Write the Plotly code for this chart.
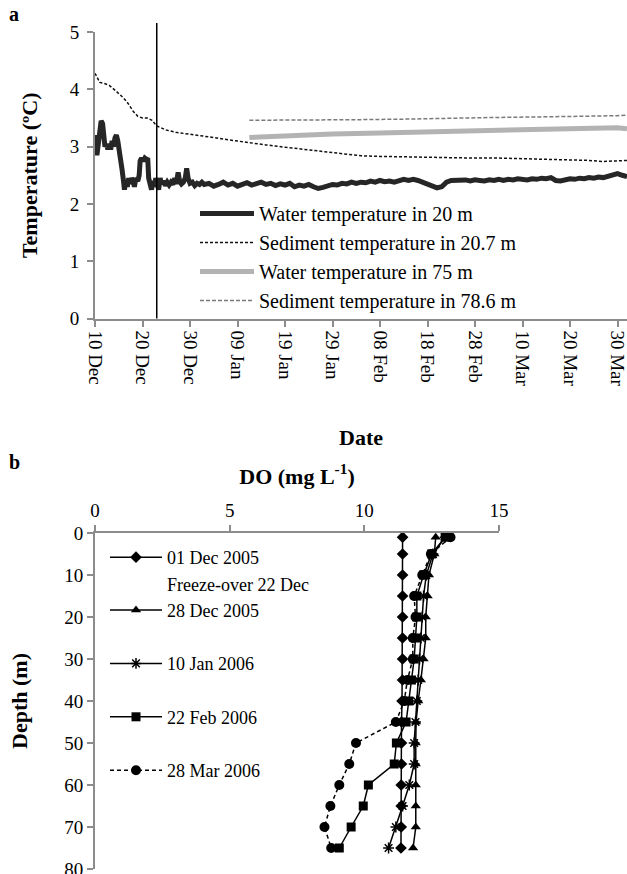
import pandas as pd
import plotly.graph_objects as go

# ---------------- Panel a data (days after 10 Dec 2005) ----------------
START = "2005-12-10"
FREEZE_DAY = 13.0

w20_days = [0.0, 0.2, 0.4, 0.7, 1.0, 1.3, 1.6, 1.9, 2.1, 2.4, 2.7, 3.0, 3.3, 3.6, 3.9, 4.2, 4.5, 4.8,
            5.1, 5.4, 5.7, 6.0, 6.2, 6.5, 6.8, 7.1, 7.4, 7.7, 8.0, 8.3, 8.6, 9.0, 9.3, 9.5, 9.8, 10.2,
            10.5, 10.8, 11.1, 11.3, 11.6, 11.9, 12.2, 12.5, 12.8, 13.1, 13.4, 13.7, 14.0, 14.4, 14.8,
            15.2, 15.6, 16.0, 16.4, 16.8, 17.1, 17.5, 17.8, 18.2, 18.6, 19.0, 19.3, 19.6, 20.0, 20.5,
            21.0, 21.5, 22.0, 22.5, 23, 24, 25, 26, 27, 28, 29, 30, 31, 32, 33, 34, 35, 36, 37, 38,
            39, 40, 41, 42, 43, 44, 45, 46, 47, 48, 49, 50, 51, 52, 53, 54, 55, 56, 57, 58, 59, 60,
            61, 62, 63, 64, 65, 66, 67, 68, 69, 70, 71, 72, 73, 74, 75, 76, 77, 78, 79, 80, 81, 82,
            83, 84, 85, 86, 87, 88, 89, 90, 91, 92, 93, 94, 95, 96, 97, 98, 99, 100, 101, 102, 103,
            104, 105, 106, 107, 108, 109, 110, 111, 112]
w20_vals = [2.95, 3.2, 2.85, 3.1, 3.35, 3.45, 3.4, 3.2, 3.0, 3.05, 2.95, 3.05, 2.95, 3.1, 3.0, 3.15,
            3.2, 3.1, 2.95, 2.85, 2.6, 2.4, 2.25, 2.4, 2.3, 2.45, 2.35, 2.45, 2.4, 2.3, 2.45, 2.4, 2.5,
            2.75, 2.8, 2.75, 2.8, 2.78, 2.8, 2.45, 2.3, 2.25, 2.4, 2.3, 2.45, 2.35, 2.25, 2.45, 2.35,
            2.4, 2.32, 2.38, 2.33, 2.38, 2.34, 2.45, 2.35, 2.55, 2.4, 2.35, 2.38, 2.45, 2.62, 2.45,
            2.36, 2.38, 2.32, 2.36, 2.34, 2.38, 2.34, 2.36, 2.31, 2.34, 2.38, 2.33, 2.36, 2.31, 2.34,
            2.37, 2.33, 2.35, 2.38, 2.34, 2.36, 2.32, 2.35, 2.33, 2.36, 2.30, 2.33, 2.31, 2.34, 2.30,
            2.27, 2.29, 2.31, 2.34, 2.33, 2.36, 2.35, 2.38, 2.36, 2.38, 2.37, 2.40, 2.38, 2.41, 2.39,
            2.40, 2.38, 2.40, 2.43, 2.41, 2.43, 2.41, 2.38, 2.33, 2.30, 2.28, 2.30, 2.38, 2.41, 2.42,
            2.41, 2.42, 2.40, 2.42, 2.41, 2.40, 2.42, 2.41, 2.43, 2.41, 2.43, 2.42, 2.44, 2.43, 2.42,
            2.44, 2.43, 2.45, 2.44, 2.46, 2.41, 2.40, 2.42, 2.44, 2.43, 2.45, 2.44, 2.46, 2.45, 2.47,
            2.46, 2.48, 2.50, 2.53, 2.50, 2.48]

s207_days = [0, 0.5, 1, 2, 3, 4, 5, 6, 7, 8, 9, 10, 11, 12, 13, 14, 15, 17, 20, 24, 28, 32, 36, 40,
             44, 48, 52, 56, 60, 65, 70, 75, 80, 85, 90, 95, 100, 104, 107, 110, 112]
s207_vals = [4.28, 4.2, 4.12, 4.1, 4.07, 4.0, 3.93, 3.85, 3.75, 3.62, 3.53, 3.5, 3.5, 3.46, 3.36,
             3.32, 3.29, 3.25, 3.22, 3.17, 3.12, 3.07, 3.03, 2.99, 2.95, 2.91, 2.87, 2.84, 2.83,
             2.82, 2.81, 2.81, 2.80, 2.80, 2.79, 2.78, 2.78, 2.76, 2.74, 2.75, 2.76]

w75_days = [32.5, 40, 50, 60, 70, 80, 90, 100, 108, 110, 112]
w75_vals = [3.16, 3.19, 3.22, 3.24, 3.26, 3.27, 3.28, 3.30, 3.32, 3.33, 3.31]

s786_days = [32.5, 45, 55, 65, 75, 85, 95, 105, 110, 112]
s786_vals = [3.46, 3.46, 3.47, 3.48, 3.50, 3.51, 3.52, 3.53, 3.54, 3.55]

# ---------------- Panel b data ----------------
depths = [1, 5, 10, 15, 20, 25, 30, 35, 40, 45, 50, 55, 60, 65, 70, 75]
do_01dec = [11.42, 11.42, 11.42, 11.42, 11.42, 11.42, 11.42, 11.42, 11.40, 11.38, 11.38, 11.38,
            11.37, 11.37, 11.37, 11.36]
do_28dec = [12.65, 12.6, 12.4, 12.35, 12.28, 12.28, 12.2, 12.1, 12.0, 11.92, 11.91, 11.91, 11.91,
            11.91, 11.91, 11.81]
do_10jan = [13.0, 12.55, 12.3, 12.2, 12.15, 12.1, 12.05, 12.0, 11.95, 11.9, 11.85, 11.85, 11.67,
            11.42, 11.17, 10.9]
do_22feb = [13.0, 12.5, 12.2, 11.95, 11.95, 11.9, 11.85, 11.75, 11.65, 11.55, 11.19, 11.11, 10.15,
            9.96, 9.51, 9.07]
do_28mar = [13.2, 12.47, 12.15, 11.85, 11.9, 11.8, 11.8, 11.6, 11.48, 11.17, 9.69, 9.44, 9.07,
            8.74, 8.52, 8.77]

legend_a = ["Water temperature in 20 m", "Sediment temperature in 20.7 m",
            "Water temperature in 75 m", "Sediment temperature in 78.6 m"]
legend_b = ["01 Dec 2005", "Freeze-over 22 Dec", "28 Dec 2005", "10 Jan 2006",
            "22 Feb 2006", "28 Mar 2006"]

FONT = "Liberation Serif"
W, H = 627, 874


def to_dates(days):
    return pd.Timestamp(START) + pd.to_timedelta(days, unit="D")


def py(p):  # pixel from top -> paper y
    return 1 - p / H


def px(p):
    return p / W


fig = go.Figure()

# ---- panel a traces
fig.add_trace(go.Scatter(x=to_dates(w20_days), y=w20_vals, mode="lines", name=legend_a[0],
                         line=dict(color="#262626", width=5), legend="legend", xaxis="x", yaxis="y"))
fig.add_trace(go.Scatter(x=to_dates(s207_days), y=s207_vals, mode="lines", name=legend_a[1],
                         line=dict(color="#111111", width=1.5, dash="3px,2px"), legend="legend",
                         xaxis="x", yaxis="y"))
fig.add_trace(go.Scatter(x=to_dates(w75_days), y=w75_vals, mode="lines", name=legend_a[2],
                         line=dict(color="#b3b3b3", width=5), legend="legend", xaxis="x", yaxis="y"))
fig.add_trace(go.Scatter(x=to_dates(s786_days), y=s786_vals, mode="lines", name=legend_a[3],
                         line=dict(color="#7a7a7a", width=1.5, dash="4px,2px"), legend="legend",
                         xaxis="x", yaxis="y"))

# ---- panel b traces
mk = dict(color="black")
fig.add_trace(go.Scatter(x=do_01dec, y=depths, mode="lines+markers", name=legend_b[0],
                         line=dict(color="black", width=1.5),
                         marker=dict(symbol="diamond", size=9, **mk), legend="legend2",
                         legendgroup="g1", xaxis="x2", yaxis="y2"))
fig.add_trace(go.Scatter(x=[None], y=[None], mode="lines", name=legend_b[1],
                         line=dict(color="rgba(0,0,0,0)", width=1), legend="legend2",
                         legendgroup="g1", xaxis="x2", yaxis="y2"))
fig.add_trace(go.Scatter(x=do_28dec, y=depths, mode="lines+markers", name=legend_b[2],
                         line=dict(color="black", width=1.5),
                         marker=dict(symbol="triangle-up", size=9, **mk), legend="legend2",
                         legendgroup="g1", xaxis="x2", yaxis="y2"))
fig.add_trace(go.Scatter(x=do_10jan, y=depths, mode="lines+markers", name=legend_b[3],
                         line=dict(color="black", width=1.5),
                         marker=dict(symbol="asterisk-open", size=9, color="black",
                                     line=dict(color="black", width=1.5)),
                         legend="legend2", legendgroup="g3", xaxis="x2", yaxis="y2"))
fig.add_trace(go.Scatter(x=do_22feb, y=depths, mode="lines+markers", name=legend_b[4],
                         line=dict(color="black", width=1.5),
                         marker=dict(symbol="square", size=9, **mk), legend="legend2",
                         legendgroup="g4", xaxis="x2", yaxis="y2"))
fig.add_trace(go.Scatter(x=do_28mar, y=depths, mode="lines+markers", name=legend_b[5],
                         line=dict(color="black", width=1.5, dash="4px,3px"),
                         marker=dict(symbol="circle", size=10, **mk), legend="legend2",
                         legendgroup="g5", xaxis="x2", yaxis="y2"))

axis_col = "#8c8c8c"
tickf = dict(family=FONT, size=19, color="black")

fig.update_layout(
    width=W, height=H,
    margin=dict(l=0, r=0, t=0, b=0, autoexpand=False),
    paper_bgcolor="white", plot_bgcolor="white",
    font=dict(family=FONT, color="black"),
    showlegend=True,
    xaxis=dict(domain=[px(95), 1.0], anchor="y", type="date", automargin=False,
               range=[to_dates([0])[0], to_dates([112])[0]],
               tick0=START, dtick=10 * 86400000, tickformat="%d %b", tickangle=90,
               ticklabeloverflow="allow",
               tickfont=tickf, showgrid=False, zeroline=False,
               showline=True, linecolor=axis_col, linewidth=2,
               ticks="outside", ticklen=6, tickcolor=axis_col, tickwidth=1.5,
               title=dict(text="<b>Date</b>", font=dict(family=FONT, size=22), standoff=44)),
    yaxis=dict(domain=[py(318.6), py(32)], anchor="x", range=[0, 5], dtick=1, automargin=False,
               tickfont=tickf, showgrid=False, zeroline=False, ticklabelstandoff=4,
               showline=True, linecolor=axis_col, linewidth=2,
               ticks="outside", ticklen=6, tickcolor=axis_col, tickwidth=1.5,
               title=dict(text="<b>Temperature (ºC)</b>", font=dict(family=FONT, size=22),
                          standoff=26)),
    xaxis2=dict(domain=[px(95), px(499)], anchor="y2", side="top", range=[0, 15], dtick=5,
                automargin=False,
                tickfont=tickf, showgrid=False, zeroline=False,
                showline=True, linecolor=axis_col, linewidth=2,
                ticks="outside", ticklen=6, tickcolor=axis_col, tickwidth=1.5,
                title=dict(text="<b>DO (mg L<sup>-1</sup>)</b>", font=dict(family=FONT, size=22),
                           standoff=10)),
    yaxis2=dict(domain=[py(869), py(533)], anchor="x2", range=[80, 0], dtick=10, automargin=False,
                ticklabeloverflow="allow",
                tickfont=tickf, showgrid=False, zeroline=False,
                showline=True, linecolor=axis_col, linewidth=2,
                ticks="outside", ticklen=6, tickcolor=axis_col, tickwidth=1.5,
                title=dict(text="<b>Depth (m)</b>", font=dict(family=FONT, size=22), standoff=31)),
    legend=dict(x=px(195), y=py(194), xanchor="left", yanchor="top",
                bgcolor="rgba(0,0,0,0)", borderwidth=0, itemwidth=54,
                font=dict(family=FONT, size=20, color="black"), tracegroupgap=0,
                itemclick=False, itemdoubleclick=False),
    legend2=dict(x=px(105), y=py(539), xanchor="left", yanchor="top",
                 bgcolor="rgba(0,0,0,0)", borderwidth=0, itemwidth=52,
                 font=dict(family=FONT, size=18, color="black"), tracegroupgap=27,
                 itemclick=False, itemdoubleclick=False),
    shapes=[dict(type="line", xref="x", yref="paper",
                 x0=to_dates([FREEZE_DAY])[0], x1=to_dates([FREEZE_DAY])[0],
                 y0=py(318.6), y1=py(23), line=dict(color="black", width=1.5))],
    annotations=[
        dict(text="<b>a</b>", x=px(14), y=py(14), xref="paper", yref="paper", showarrow=False,
             xanchor="center", yanchor="middle", font=dict(family=FONT, size=20)),
        dict(text="<b>b</b>", x=px(14), y=py(462), xref="paper", yref="paper", showarrow=False,
             xanchor="center", yanchor="middle", font=dict(family=FONT, size=20)),
    ],
)

fig.write_html("out.html", config={"displayModeBar": False},
               post_script="document.body.style.margin='0px';"
                           "document.body.style.overflow='hidden';")
